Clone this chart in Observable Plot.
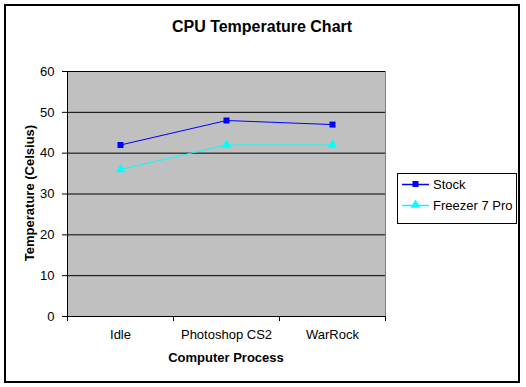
<!DOCTYPE html>
<html><head><meta charset="utf-8">
<script src="https://cdn.jsdelivr.net/npm/d3@7"></script>
<script src="https://cdn.jsdelivr.net/npm/@observablehq/plot@0.6"></script>
<style>body{margin:0;background:#fff} svg{display:block}</style>
</head><body><div id="chart"></div>
<script>
const categories = ["Idle", "Photoshop CS2", "WarRock"];
const stock = [42, 48, 47];
const freezer = [36, 42, 42];
const yTicks = [0, 10, 20, 30, 40, 50, 60];
const seriesNames = ["Stock", "Freezer 7 Pro"];
const seriesColors = ["#0000ff", "#00ffff"];
const seriesSymbols = ["square", "triangle"];
const title = "CPU Temperature Chart";
const xTitle = "Computer Process";
const yTitle = "Temperature (Celsius)";

const rows = (vals) => categories.map((c, i) => ({pos: i + 0.5, value: vals[i]}));
const stockRows = rows(stock);
const freezerRows = rows(freezer);
const boundaries = d3.range(categories.length + 1);
const centers = categories.map((c, i) => i + 0.5);

const FONT = "'Liberation Sans', Arial, sans-serif";

const chart = Plot.plot({
  width: 526, height: 387,
  marginTop: 71, marginBottom: 71, marginLeft: 67, marginRight: 141,
  x: {domain: [0, categories.length]},
  y: {domain: [0, 60]},
  style: {fontFamily: FONT, fontSize: "13px", color: "black", background: "white"},
  marks: [
    Plot.frame({fill: "#c0c0c0", stroke: "#808080"}),
    Plot.gridY({ticks: yTicks, stroke: "black", strokeOpacity: 1}),
    Plot.ruleY([0], {stroke: "black"}),
    Plot.ruleX([0], {stroke: "black"}),
    Plot.axisY({ticks: yTicks, tickSize: 5, tickPadding: 8, label: null, stroke: "black"}),
    Plot.axisX({ticks: boundaries, tickSize: 5, tickFormat: () => "", label: null, stroke: "black"}),
    Plot.axisX({ticks: centers, tickSize: 0, tickPadding: 13, tickFormat: d => categories[Math.floor(d)], label: null}),
    Plot.line(stockRows, {x: "pos", y: "value", stroke: seriesColors[0], strokeWidth: 1}),
    Plot.line(freezerRows, {x: "pos", y: "value", stroke: seriesColors[1], strokeWidth: 1}),
    Plot.dot(stockRows, {x: "pos", y: "value", symbol: seriesSymbols[0], fill: seriesColors[0], r: 3.4}),
    Plot.dot(freezerRows, {x: "pos", y: "value", symbol: seriesSymbols[1], fill: seriesColors[1], r: 3.6})
  ]
});
document.getElementById("chart").appendChild(chart);

const svg = d3.select(chart);
svg.append("rect").attr("x", 5).attr("y", 5).attr("width", 514).attr("height", 377)
  .attr("fill", "none").attr("stroke", "black").attr("stroke-width", 2);

svg.append("text").text(title).attr("x", 262).attr("y", 32)
  .attr("text-anchor", "middle").attr("font-family", FONT).attr("font-size", 16).attr("font-weight", "bold").attr("fill", "black");
svg.append("text").text(xTitle).attr("x", 226).attr("y", 362)
  .attr("text-anchor", "middle").attr("font-family", FONT).attr("font-size", 13).attr("font-weight", "bold").attr("fill", "black");
svg.append("text").text(yTitle).attr("transform", "translate(34,193) rotate(-90)")
  .attr("text-anchor", "middle").attr("font-family", FONT).attr("font-size", 13).attr("font-weight", "bold").attr("fill", "black");

const lg = svg.append("g");
lg.append("rect").attr("x", 397.5).attr("y", 173.5).attr("width", 119).attr("height", 50)
  .attr("fill", "white").attr("stroke", "black");
seriesNames.forEach((name, i) => {
  const cy = 184 + i * 21;
  lg.append("line").attr("x1", 402).attr("x2", 429).attr("y1", cy + 0.5).attr("y2", cy + 0.5)
    .attr("stroke", seriesColors[i]).attr("stroke-width", 1.5);
  const sym = i === 0 ? d3.symbolSquare : d3.symbolTriangle;
  lg.append("path").attr("d", d3.symbol(sym, i === 0 ? 36 : 40)()).attr("transform", `translate(415.5,${cy})`)
    .attr("fill", seriesColors[i]);
  lg.append("text").text(name).attr("x", 433).attr("y", cy).attr("dy", "0.35em")
    .attr("text-anchor", "start")
    .attr("font-family", FONT).attr("font-size", 13).attr("fill", "black");
});
</script>
</body></html>
